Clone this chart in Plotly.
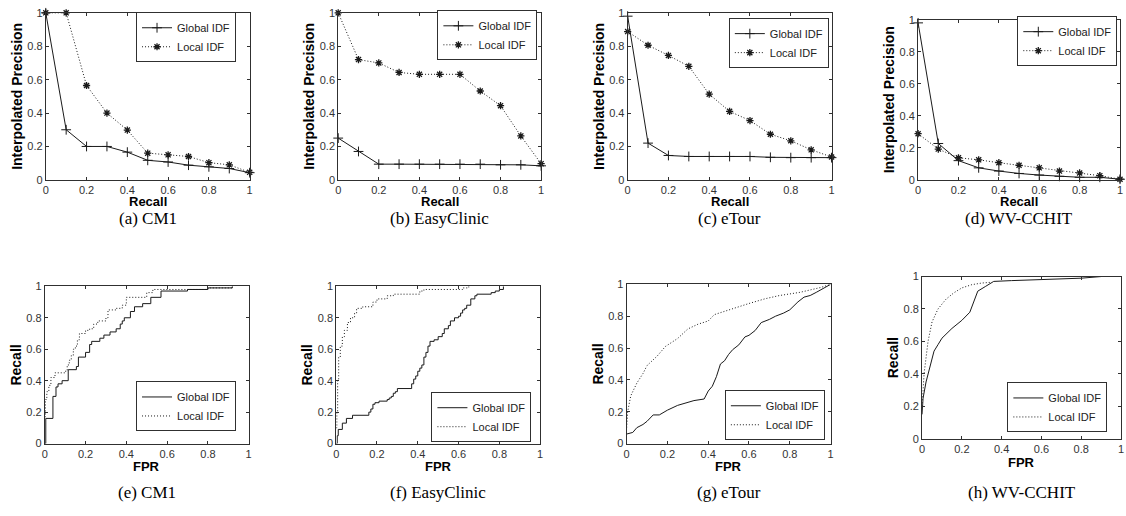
import plotly.graph_objects as go

W, H = 1126, 516

# ---------------- data ----------------
recall_levels = [0, 0.1, 0.2, 0.3, 0.4, 0.5, 0.6, 0.7, 0.8, 0.9, 1.0]

cm1_global_prec = [1.0, 0.30, 0.20, 0.20, 0.166, 0.117, 0.107, 0.088, 0.078, 0.068, 0.043]
cm1_local_prec = [1.0, 1.0, 0.565, 0.40, 0.298, 0.16, 0.15, 0.14, 0.103, 0.09, 0.045]

ec_global_prec = [0.25, 0.17, 0.094, 0.094, 0.094, 0.094, 0.094, 0.094, 0.09, 0.09, 0.084]
ec_local_prec = [1.0, 0.72, 0.70, 0.643, 0.632, 0.632, 0.632, 0.532, 0.444, 0.263, 0.097]

et_global_prec = [0.98, 0.22, 0.146, 0.14, 0.14, 0.14, 0.14, 0.135, 0.133, 0.133, 0.133]
et_local_prec = [0.888, 0.806, 0.745, 0.68, 0.513, 0.41, 0.355, 0.273, 0.234, 0.18, 0.137]

wv_global_prec = [0.98, 0.227, 0.12, 0.075, 0.055, 0.04, 0.03, 0.022, 0.016, 0.016, 0.004]
wv_local_prec = [0.288, 0.192, 0.138, 0.125, 0.107, 0.091, 0.075, 0.055, 0.043, 0.026, 0.004]

# ROC curves (FPR, Recall)
cm1_global_fpr = [0, 0.005, 0.04, 0.055, 0.065, 0.085, 0.115, 0.155, 0.165, 0.2, 0.22, 0.23,
                  0.27, 0.29, 0.32, 0.35, 0.37, 0.38, 0.39, 0.42, 0.44, 0.48, 0.52, 0.57, 0.7, 0.8, 0.92]
cm1_global_rec = [0, 0.16, 0.30, 0.36, 0.38, 0.40, 0.47, 0.49, 0.55, 0.58, 0.63, 0.65,
                  0.67, 0.69, 0.71, 0.73, 0.76, 0.78, 0.80, 0.84, 0.87, 0.89, 0.93, 0.97, 0.98, 0.99, 1.0]
cm1_local_fpr = [0, 0.003, 0.01, 0.02, 0.03, 0.05, 0.1, 0.11, 0.12, 0.13, 0.14, 0.15, 0.16, 0.17,
                 0.2, 0.22, 0.24, 0.26, 0.3, 0.31, 0.35, 0.38, 0.4, 0.5, 0.53, 0.57, 0.7, 0.8, 0.92]
cm1_local_rec = [0.17, 0.28, 0.33, 0.37, 0.42, 0.45, 0.46, 0.5, 0.53, 0.56, 0.6, 0.62, 0.66, 0.7,
                 0.72, 0.73, 0.76, 0.78, 0.8, 0.85, 0.86, 0.88, 0.93, 0.96, 0.98, 0.98, 0.98, 0.99, 1.0]

ec_global_fpr = [0, 0.005, 0.01, 0.03, 0.05, 0.08, 0.16, 0.17, 0.18, 0.19, 0.21, 0.25, 0.26, 0.27,
                 0.28, 0.29, 0.3, 0.37, 0.38, 0.39, 0.40, 0.41, 0.42, 0.43, 0.44, 0.45, 0.46, 0.48,
                 0.5, 0.52, 0.53, 0.55, 0.56, 0.58, 0.6, 0.61, 0.62, 0.63, 0.64, 0.66, 0.68, 0.69,
                 0.76, 0.78, 0.8, 0.82]
ec_global_rec = [0, 0.05, 0.09, 0.13, 0.16, 0.18, 0.20, 0.22, 0.25, 0.26, 0.27, 0.28, 0.29, 0.30,
                 0.32, 0.33, 0.35, 0.38, 0.41, 0.43, 0.46, 0.48, 0.50, 0.55, 0.58, 0.62, 0.65, 0.66,
                 0.68, 0.70, 0.73, 0.75, 0.78, 0.80, 0.81, 0.83, 0.85, 0.86, 0.88, 0.92, 0.94, 0.95,
                 0.96, 0.97, 0.98, 1.0]
ec_local_fpr = [0, 0.003, 0.007, 0.012, 0.02, 0.03, 0.04, 0.055, 0.07, 0.09, 0.1, 0.13, 0.15,
                0.18, 0.2, 0.25, 0.28, 0.3, 0.4, 0.41, 0.43, 0.6, 0.62, 0.65]
ec_local_rec = [0.1, 0.2, 0.4, 0.55, 0.62, 0.68, 0.72, 0.77, 0.8, 0.83, 0.86, 0.87, 0.87,
                0.9, 0.92, 0.94, 0.95, 0.95, 0.95, 0.97, 0.98, 0.98, 0.99, 1.0]

et_global_fpr = [0, 0.03, 0.05, 0.08, 0.1, 0.13, 0.16, 0.2, 0.25, 0.3, 0.33, 0.38, 0.4, 0.42,
                 0.44, 0.46, 0.48, 0.5, 0.52, 0.55, 0.58, 0.6, 0.63, 0.66, 0.7, 0.73, 0.77, 0.8,
                 0.84, 0.87, 0.9, 0.93, 0.96, 1.0]
et_global_rec = [0.06, 0.07, 0.1, 0.12, 0.14, 0.18, 0.18, 0.21, 0.24, 0.26, 0.27, 0.28, 0.33, 0.36,
                 0.42, 0.5, 0.52, 0.56, 0.59, 0.62, 0.67, 0.68, 0.71, 0.76, 0.78, 0.8, 0.82, 0.84,
                 0.89, 0.92, 0.93, 0.95, 0.97, 1.0]
et_local_fpr = [0, 0.005, 0.02, 0.05, 0.08, 0.1, 0.15, 0.19, 0.25, 0.3, 0.35, 0.4, 0.43, 0.5,
                0.6, 0.68, 0.75, 0.85, 0.95, 1.0]
et_local_rec = [0.1, 0.2, 0.3, 0.38, 0.44, 0.49, 0.55, 0.61, 0.66, 0.72, 0.75, 0.77, 0.81, 0.84,
                0.88, 0.91, 0.93, 0.95, 0.98, 1.0]

wv_global_fpr = [0, 0.005, 0.02, 0.04, 0.06, 0.08, 0.1, 0.15, 0.2, 0.24, 0.26, 0.28, 0.32, 0.36,
                 0.45, 0.6, 0.8, 0.9]
wv_global_rec = [0.15, 0.25, 0.35, 0.45, 0.54, 0.58, 0.62, 0.68, 0.73, 0.78, 0.84, 0.91, 0.94, 0.97,
                 0.975, 0.98, 0.99, 1.0]
wv_local_fpr = [0, 0.01, 0.03, 0.05, 0.08, 0.12, 0.16, 0.2, 0.25, 0.3, 0.35]
wv_local_rec = [0.2, 0.4, 0.6, 0.72, 0.8, 0.86, 0.9, 0.93, 0.95, 0.96, 0.965]

captions = ["(a) CM1", "(b) EasyClinic", "(c) eTour", "(d) WV-CCHIT",
            "(e) CM1", "(f) EasyClinic", "(g) eTour", "(h) WV-CCHIT"]
series_names = ["Global IDF", "Local IDF"]
x_titles = ["Recall"] * 4 + ["FPR"] * 4
y_titles = ["Interpolated Precision"] * 4 + ["Recall"] * 4
tick_vals = [0, 0.2, 0.4, 0.6, 0.8, 1]
tick_text = ["0", "0.2", "0.4", "0.6", "0.8", "1"]

top_data = [
    (cm1_global_prec, cm1_local_prec),
    (ec_global_prec, ec_local_prec),
    (et_global_prec, et_local_prec),
    (wv_global_prec, wv_local_prec),
]
bottom_data = [
    (cm1_global_fpr, cm1_global_rec, cm1_local_fpr, cm1_local_rec, "hv"),
    (ec_global_fpr, ec_global_rec, ec_local_fpr, ec_local_rec, "hv"),
    (et_global_fpr, et_global_rec, et_local_fpr, et_local_rec, "linear"),
    (wv_global_fpr, wv_global_rec, wv_local_fpr, wv_local_rec, "linear"),
]

# ---------------- layout geometry (pixels: left, right, top, bottom) ----------------
boxes = [
    (43, 248, 7, 178), (337, 541, 7, 178), (628, 833, 7, 178), (920, 1123, 14, 178),
    (42, 247, 287, 448), (335, 540, 287, 448), (627, 832, 285, 448), (924, 1124, 277, 443),
]
legend_centers = [
    (184, 32), (487, 30), (780, 38), (1070, 36),
    (184, 410), (481, 421), (776, 419), (1060, 411),
]
xtitle_y = [200, 200, 200, 200, 471, 471, 471, 467]
caption_y = [218, 218, 218, 218, 498, 498, 498, 498]

INK = "#1a1a1a"
AX = "#303030"
SANS = "Liberation Sans, Arial, sans-serif"
SERIF = "Liberation Serif, DejaVu Serif, serif"

fig = go.Figure()

for i, (g, l) in enumerate(top_data):
    n = i + 1
    xa = "x" if n == 1 else f"x{n}"
    ya = "y" if n == 1 else f"y{n}"
    lg = "legend" if n == 1 else f"legend{n}"
    fig.add_trace(go.Scatter(
        x=recall_levels, y=g, name=series_names[0], mode="lines+markers",
        line=dict(color=INK, width=1),
        marker=dict(symbol="cross-thin", size=7, color=INK, line=dict(color=INK, width=1)),
        xaxis=xa, yaxis=ya, legend=lg, cliponaxis=False))
    fig.add_trace(go.Scatter(
        x=recall_levels, y=l, name=series_names[1], mode="lines+markers",
        line=dict(color=INK, width=1, dash="1px,2px"),
        marker=dict(symbol="asterisk", size=6, color=INK, line=dict(color=INK, width=1.3)),
        xaxis=xa, yaxis=ya, legend=lg, cliponaxis=False))

for i, (gx, gy, lx, ly, shape) in enumerate(bottom_data):
    n = i + 5
    xa, ya, lg = f"x{n}", f"y{n}", f"legend{n}"
    fig.add_trace(go.Scatter(
        x=gx, y=gy, name=series_names[0], mode="lines",
        line=dict(color=INK, width=1, shape=shape),
        xaxis=xa, yaxis=ya, legend=lg))
    fig.add_trace(go.Scatter(
        x=lx, y=ly, name=series_names[1], mode="lines",
        line=dict(color=INK, width=1, dash="1px,2px", shape=shape),
        xaxis=xa, yaxis=ya, legend=lg))

layout = dict(
    width=W, height=H, autosize=False,
    margin=dict(l=0, r=0, t=0, b=0),
    paper_bgcolor="white", plot_bgcolor="white",
    font=dict(family=SANS, color=INK),
    annotations=[],
)

for k, (L, R, T, B) in enumerate(boxes):
    n = k + 1
    xkey = "xaxis" if n == 1 else f"xaxis{n}"
    ykey = "yaxis" if n == 1 else f"yaxis{n}"
    common = dict(
        range=[0, 1], tickmode="array", tickvals=tick_vals, ticktext=tick_text,
        showline=True, linecolor=AX, linewidth=1, mirror="ticks",
        ticks="inside", ticklen=3, tickcolor=AX, tickwidth=1,
        showgrid=False, zeroline=False, fixedrange=True,
        tickfont=dict(family=SANS, size=11, color="#333333"),
    )
    layout[xkey] = dict(common, domain=[L / W, R / W],
                        anchor="y" if n == 1 else f"y{n}")
    layout[ykey] = dict(common, domain=[1 - B / H, 1 - T / H],
                        anchor="x" if n == 1 else f"x{n}",
                        title=dict(text=y_titles[k], standoff=1,
                                   font=dict(family=SANS, size=14, color="black", weight="bold")))
    lkey = "legend" if n == 1 else f"legend{n}"
    cx, cy = legend_centers[k]
    layout[lkey] = dict(
        x=cx / W, y=1 - cy / H, xanchor="center", yanchor="middle",
        xref="paper", yref="paper",
        bgcolor="white", bordercolor=AX, borderwidth=1,
        font=dict(family=SANS, size=11, color="#222222"),
        tracegroupgap=0, itemwidth=30,
    )
    # x-axis title placed as text just under the tick labels
    layout["annotations"].append(dict(
        text=x_titles[k], x=(L + R) / 2 / W, y=1 - xtitle_y[k] / H,
        xref="paper", yref="paper", xanchor="center", yanchor="middle",
        showarrow=False,
        font=dict(family=SANS, size=13, color="black", weight="bold"),
    ))
    layout["annotations"].append(dict(
        text=captions[k], x=(L + R) / 2 / W, y=1 - caption_y[k] / H,
        xref="paper", yref="paper", xanchor="center", yanchor="middle",
        showarrow=False,
        font=dict(family=SERIF, size=17, color="black"),
    ))

fig.update_layout(**layout)

fig.write_html("out.html", config={"displayModeBar": False},
               post_script="document.body.style.margin='0';")
